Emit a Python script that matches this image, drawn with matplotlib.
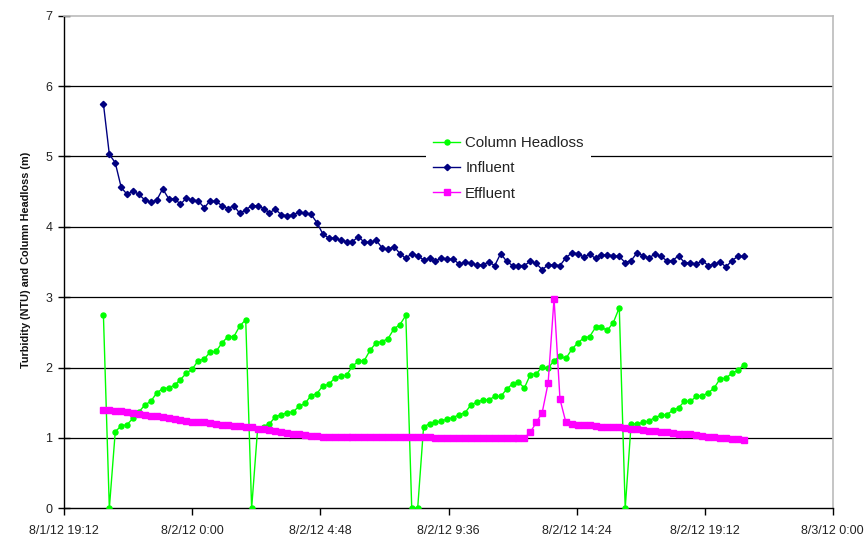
import matplotlib
matplotlib.use("Agg")
import matplotlib.pyplot as plt
import matplotlib.dates as mdates
import pandas as pd
from datetime import datetime, timedelta

# Sampling times (one reading every 800 s over a day)
start_time = datetime(2012, 8, 1, 20, 40)
n_points = 109
times = pd.date_range(start=start_time, periods=n_points, freq="800s")

headloss = [2.75, 0.00, 1.09, 1.17, 1.19, 1.28, 1.37, 1.47, 1.52, 1.64,
            1.70, 1.71, 1.75, 1.83, 1.92, 1.98, 2.10, 2.12, 2.22, 2.23,
            2.35, 2.44, 2.44, 2.59, 2.68, 0.00, 1.12, 1.16, 1.20, 1.30,
            1.33, 1.36, 1.37, 1.45, 1.49, 1.60, 1.63, 1.74, 1.76, 1.85,
            1.88, 1.89, 2.02, 2.09, 2.10, 2.25, 2.35, 2.37, 2.41, 2.55,
            2.61, 2.74, 0.00, 0.00, 1.16, 1.20, 1.22, 1.24, 1.27, 1.29,
            1.33, 1.36, 1.47, 1.51, 1.54, 1.54, 1.59, 1.59, 1.69, 1.77,
            1.79, 1.71, 1.90, 1.91, 2.01, 1.99, 2.10, 2.16, 2.13, 2.26,
            2.35, 2.42, 2.44, 2.57, 2.57, 2.53, 2.64, 2.85, 0.00, 1.20,
            1.20, 1.22, 1.24, 1.29, 1.32, 1.33, 1.39, 1.43, 1.52, 1.52,
            1.59, 1.60, 1.64, 1.71, 1.84, 1.85, 1.92, 1.96, 2.04]

influent = [5.75, 5.03, 4.91, 4.56, 4.46, 4.51, 4.46, 4.38, 4.35, 4.38,
            4.54, 4.40, 4.40, 4.32, 4.41, 4.38, 4.37, 4.27, 4.37, 4.36,
            4.30, 4.26, 4.30, 4.19, 4.24, 4.30, 4.30, 4.26, 4.20, 4.25,
            4.17, 4.16, 4.17, 4.21, 4.19, 4.18, 4.06, 3.90, 3.84, 3.84,
            3.81, 3.79, 3.79, 3.86, 3.78, 3.78, 3.81, 3.70, 3.68, 3.72,
            3.62, 3.55, 3.62, 3.59, 3.53, 3.55, 3.51, 3.56, 3.54, 3.54,
            3.47, 3.50, 3.48, 3.46, 3.46, 3.50, 3.45, 3.62, 3.51, 3.45,
            3.45, 3.45, 3.51, 3.48, 3.39, 3.46, 3.46, 3.45, 3.56, 3.63,
            3.62, 3.57, 3.61, 3.55, 3.60, 3.60, 3.59, 3.58, 3.49, 3.52,
            3.63, 3.59, 3.56, 3.61, 3.58, 3.52, 3.52, 3.59, 3.49, 3.49,
            3.47, 3.52, 3.45, 3.47, 3.50, 3.43, 3.52, 3.58, 3.58]

effluent = [1.40, 1.39, 1.38, 1.38, 1.37, 1.36, 1.34, 1.33, 1.31, 1.31,
            1.30, 1.29, 1.27, 1.26, 1.24, 1.23, 1.22, 1.22, 1.21, 1.20,
            1.18, 1.18, 1.17, 1.17, 1.16, 1.15, 1.13, 1.12, 1.11, 1.10,
            1.09, 1.07, 1.06, 1.05, 1.04, 1.03, 1.03, 1.02, 1.02, 1.02,
            1.02, 1.02, 1.02, 1.02, 1.02, 1.02, 1.02, 1.02, 1.02, 1.02,
            1.02, 1.02, 1.02, 1.01, 1.01, 1.01, 1.00, 1.00, 1.00, 1.00,
            1.00, 1.00, 1.00, 1.00, 1.00, 1.00, 1.00, 1.00, 1.00, 1.00,
            1.00, 1.00, 1.08, 1.22, 1.36, 1.78, 2.98, 1.55, 1.22, 1.20,
            1.19, 1.19, 1.18, 1.17, 1.16, 1.16, 1.15, 1.15, 1.14, 1.13,
            1.12, 1.11, 1.10, 1.10, 1.09, 1.08, 1.07, 1.06, 1.05, 1.05,
            1.04, 1.03, 1.02, 1.01, 1.00, 1.00, 0.99, 0.98, 0.97]

series_labels = ["Column Headloss", "Influent", "Effluent"]
y_label = "Turbidity (NTU) and Column Headloss (m)"
x_start = datetime(2012, 8, 1, 19, 12)
x_end = datetime(2012, 8, 3, 0, 0)
x_step = timedelta(hours=4, minutes=48)

plt.rcParams["font.family"] = ["Liberation Sans", "DejaVu Sans"]

fig = plt.figure(figsize=(8.65, 5.36), dpi=100)
ax = fig.add_axes([0.0743, 0.0517, 0.8884, 0.9190])

ax.plot(times, headloss, color="#00FF00", lw=1.0, marker="o", ms=3.6,
        mec="#00FF00", mfc="#00FF00", label=series_labels[0], zorder=3)
ax.plot(times, influent, color="#000080", lw=1.0, marker="D", ms=3.2,
        mec="#000080", mfc="#000080", label=series_labels[1], zorder=4)
ax.plot(times, effluent, color="#FF00FF", lw=1.0, marker="s", ms=3.7,
        mec="#FF00FF", mfc="#FF00FF", label=series_labels[2], zorder=5)

ax.set_xlim(x_start, x_end)
ax.set_ylim(0, 7)

ticks = []
t = x_start
while t <= x_end:
    ticks.append(t)
    t += x_step
ax.set_xticks(ticks)


def fmt_date(val, pos=None):
    d = mdates.num2date(val)
    return f"{d.month}/{d.day}/{d.year % 100} {d.hour}:{d.minute:02d}"


ax.xaxis.set_major_formatter(plt.FuncFormatter(fmt_date))
ax.set_yticks(range(0, 8))

for yv in range(1, 7):
    ax.axhline(yv, color="#000000", lw=0.9, zorder=1)

for side in ("left", "bottom"):
    ax.spines[side].set_color("#000000")
    ax.spines[side].set_linewidth(1.0)
for side in ("top", "right"):
    ax.spines[side].set_color("#BBBBBB")
    ax.spines[side].set_linewidth(1.2)

ax.tick_params(axis="x", direction="out", length=5, width=1, labelsize=9,
               labelcolor="#222222", pad=7)
ax.tick_params(axis="y", direction="inout", length=9, width=1, labelsize=9,
               labelcolor="#222222", pad=4)

fig.text(26 / 865, 1 - 260 / 536, y_label, rotation=90, ha="center",
         va="center", fontsize=7.8, fontweight="bold", color="#111111")

leg = ax.legend(loc="upper left", bbox_to_anchor=(418 / 865, 1 - 121 / 536),
                bbox_transform=fig.transFigure, frameon=True, fancybox=False,
                framealpha=1.0, facecolor="white", edgecolor="none",
                fontsize=10.8, handlelength=1.8, handletextpad=0.35,
                labelspacing=0.75, borderpad=0.5, markerscale=1.0)
for txt in leg.get_texts():
    txt.set_color("#222222")
leg.set_zorder(6)

fig.savefig("out.png", dpi=100)
